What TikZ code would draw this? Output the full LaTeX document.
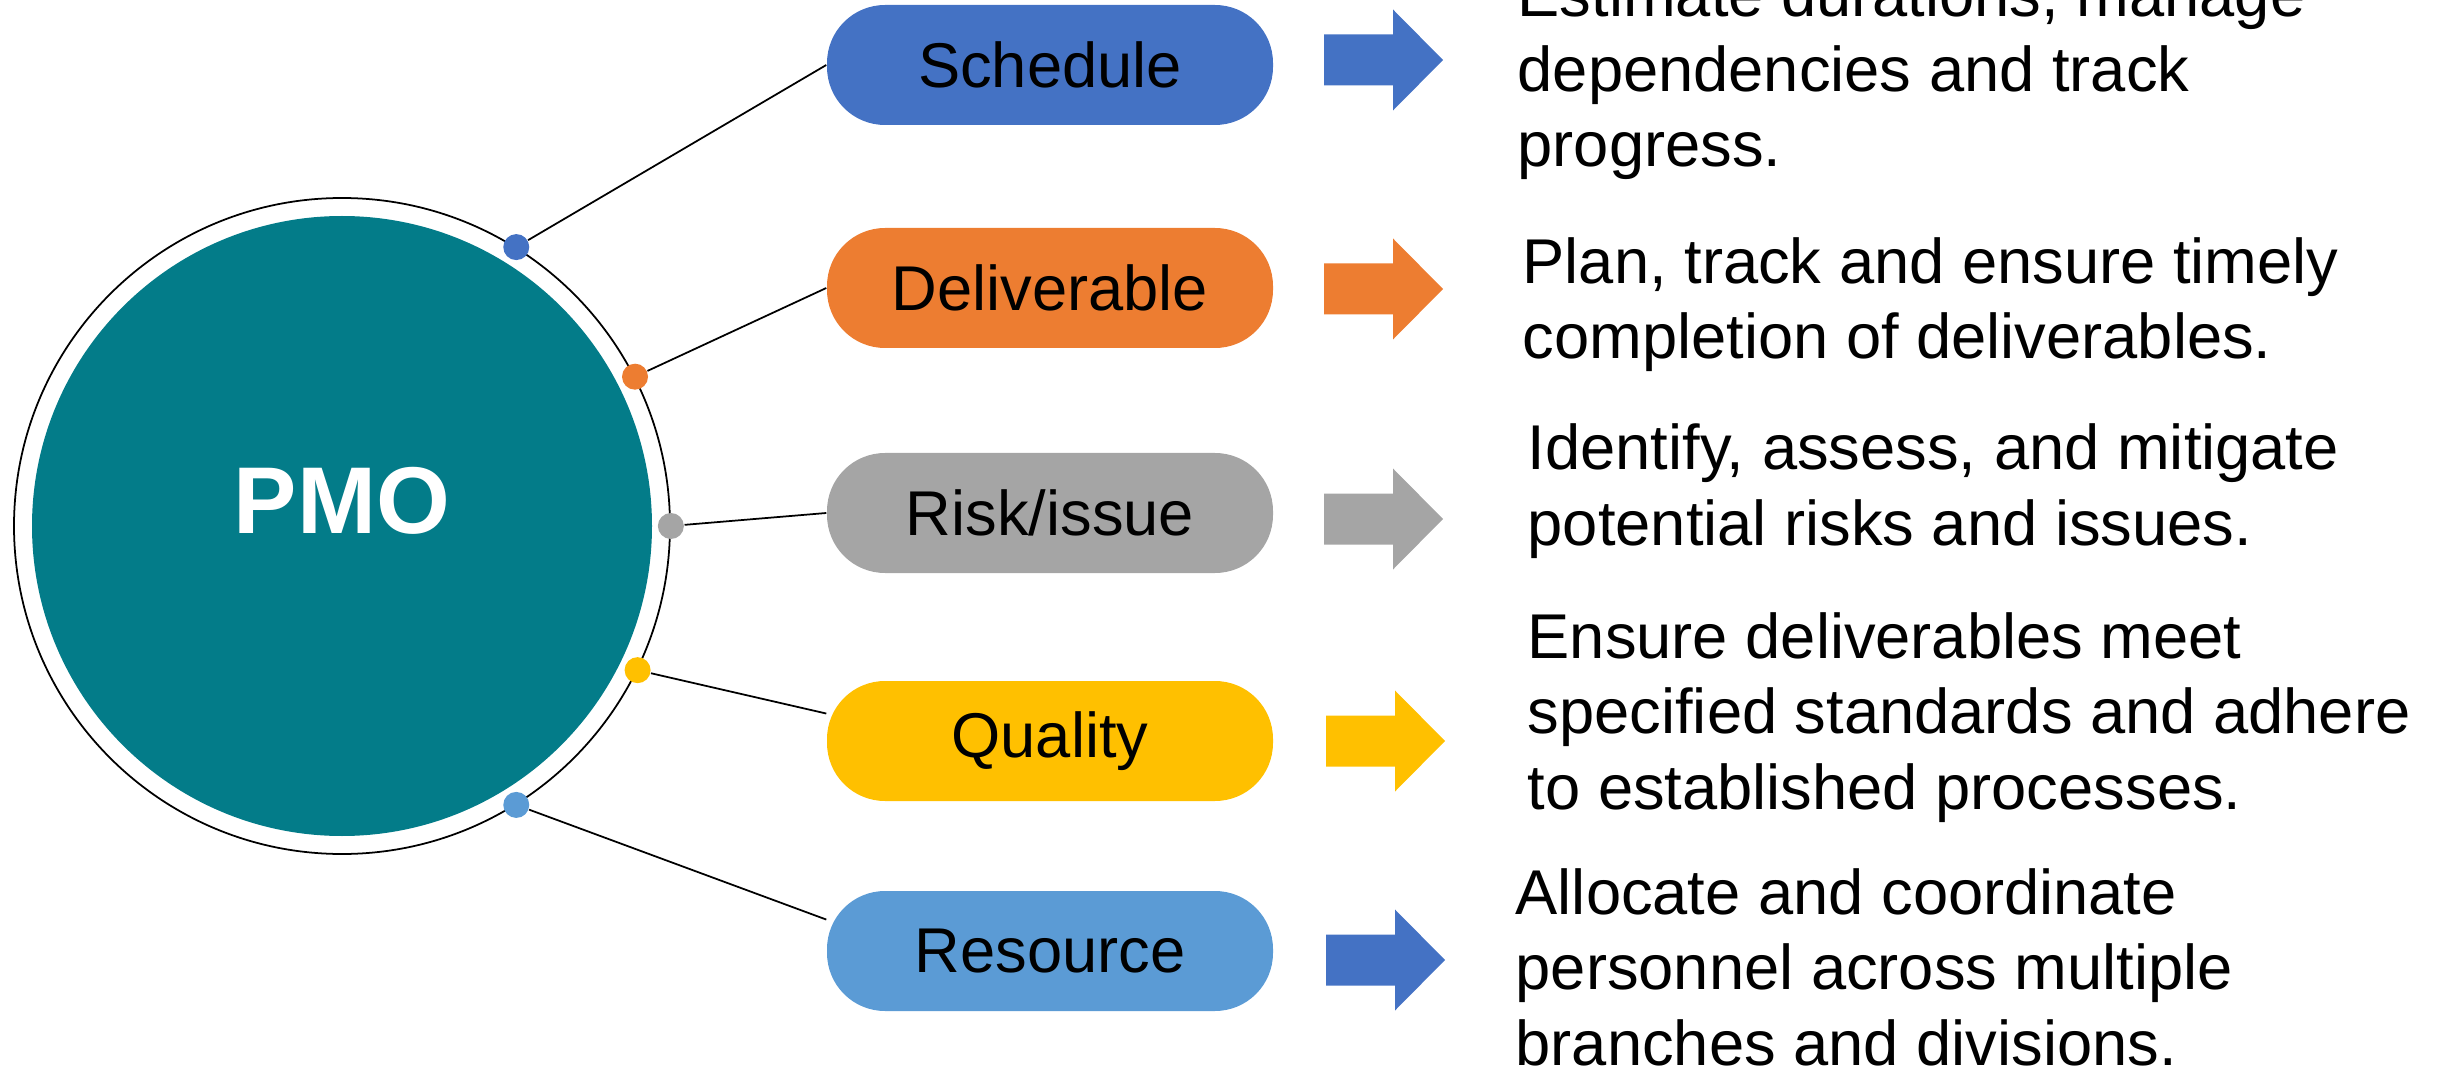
\documentclass[tikz,border=0pt]{standalone}
\usepackage{fontspec}
\setmainfont{Liberation Sans}
\usetikzlibrary{positioning}

\definecolor{pmoteal}{HTML}{037C89}
\definecolor{schedblue}{HTML}{4472C4}
\definecolor{delivorange}{HTML}{ED7D31}
\definecolor{riskgray}{HTML}{A5A5A5}
\definecolor{qualgold}{HTML}{FFC000}
\definecolor{resblue}{HTML}{5B9BD5}

\tikzset{
  pill/.style={rectangle, rounded corners=0.58cm, minimum width=4.46cm, minimum height=1.2cm, inner sep=0pt, font=\fontsize{18}{21.6}\selectfont},
  dot/.style={circle, minimum size=0.26cm, inner sep=0pt},
  desc/.style={anchor=base west, align=left, inner sep=0pt, font=\fontsize{18}{21.4}\selectfont},
  link/.style={line width=0.5pt}
}
% block arrow, #2 = middle of its left end
\newcommand{\bigarrow}[2]{\fill[#1] (#2) ++(0,0.255) -- ++(0.69,0) -- ++(0,0.25) -- ++(0.5,-0.505) -- ++(-0.5,-0.505) -- ++(0,0.25) -- ++(-0.69,0) -- cycle;}

\begin{document}
\begin{tikzpicture}
  \useasboundingbox (0,0) rectangle (24.47,10.73);

  % PMO circle
  \node[circle, draw, line width=0.5pt, minimum size=6.56cm] (ring) at (3.42,5.47) {};
  \node[circle, fill=pmoteal, minimum size=6.2cm] (pmo) at (ring.center) {};
  \node[text=white, font=\fontsize{27}{32}\selectfont\bfseries] (pmotext) at ([yshift=0.25cm]pmo.center) {PMO};

  % areas
  \node[pill, fill=schedblue] (sched) at (10.50,10.08) {Schedule};
  \node[pill, fill=delivorange] (deliv) at (10.50,7.85) {Deliverable};
  \node[pill, fill=riskgray] (risk) at (10.50,5.60) {Risk/issue};
  \node[pill, fill=qualgold] (qual) at (10.50,3.32) {Quality};
  \node[pill, fill=resblue] (res) at (10.50,1.22) {Resource};

  % dots on the ring
  \node[dot, fill=schedblue] (dsched) at (ring.58) {};
  \node[dot, fill=delivorange] (ddeliv) at (ring.27) {};
  \node[dot, fill=riskgray] (drisk) at (ring.0) {};
  \node[dot, fill=qualgold] (dqual) at (ring.-26) {};
  \node[dot, fill=resblue] (dres) at (ring.-58) {};

  \draw[link] (dsched) -- (sched.west);
  \draw[link] (ddeliv) -- (deliv.west);
  \draw[link] (drisk) -- (risk.west);
  \draw[link] (dqual) -- (qual.173.5);
  \draw[link] (dres) -- (res.172);

  % arrows
  \bigarrow{schedblue}{13.24,10.13}
  \bigarrow{delivorange}{13.24,7.84}
  \bigarrow{riskgray}{13.24,5.54}
  \bigarrow{qualgold}{13.26,3.32}
  \bigarrow{schedblue}{13.26,1.13}

  % descriptions (base = last line)
  \node[desc] (tsched) at (15.17,9.06) {Estimate durations, manage\\dependencies and track\\progress.};
  \node[desc] (tdeliv) at (15.22,7.14) {Plan, track and ensure timely\\completion of deliverables.};
  \node[desc] (trisk) at (15.27,5.28) {Identify, assess, and mitigate\\potential risks and issues.};
  \node[desc] (tqual) at (15.27,2.64) {Ensure deliverables meet\\specified standards and adhere\\to established processes.};
  \node[desc] (tres) at (15.15,0.08) {Allocate and coordinate\\personnel across multiple\\branches and divisions.};
\end{tikzpicture}
\end{document}
